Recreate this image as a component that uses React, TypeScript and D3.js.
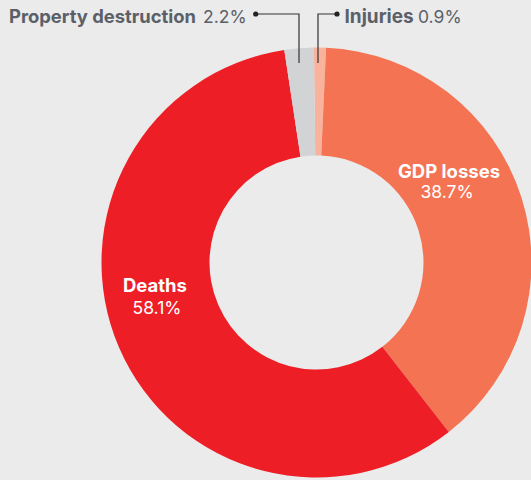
import React from "react";
import * as d3 from "d3";

const categories = ["Injuries", "GDP losses", "Deaths", "Property destruction"];
const values = [0.9, 38.7, 58.1, 2.2];
const colors = ["#F9B39C", "#F47353", "#EE1E26", "#D1D3D5"];

const W = 531;
const H = 480;
const cx = 316.5;
const cy = 262.5;
const R = 215;
const r = 107;
const FONT = "Inter, 'Noto Sans', sans-serif";
const GREY = "#5B6068";

export default function App() {
  const pie = d3
    .pie<number>()
    .sort(null)
    .value((d) => d)
    .startAngle(-0.012)
    .endAngle(2 * Math.PI - 0.012);
  const arcs = pie(values);
  const arc = d3.arc<d3.PieArcDatum<number>>().innerRadius(r).outerRadius(R);

  return (
    <svg
      width={W}
      height={H}
      style={{ position: "absolute", left: 0, top: 0, background: "#EBEBEB" }}
    >
      <rect width={W} height={H} fill="#EBEBEB" />
      <g transform={`translate(${cx},${cy})`}>
        {arcs.map((a, i) => (
          <path key={categories[i]} d={arc(a) || ""} fill={colors[i]} />
        ))}
      </g>
      {/* connectors */}
      <g stroke="#333" strokeWidth={1.2} fill="none">
        <polyline points="255.7,14 299,14 299,63" />
        <polyline points="337,14 318,14 318,63" />
      </g>
      <circle cx={255.7} cy={14} r={2.6} fill="#222" />
      <circle cx={337} cy={14} r={2.6} fill="#222" />
      <g fontFamily={FONT} fill={GREY}>
        <text x={9} y={23} fontSize={18.4} fontWeight={700}>
          {categories[3]}
        </text>
        <text x={203} y={23} fontSize={17.5} fontWeight={400}>
          {values[3]}%
        </text>
        <text x={344.5} y={23} fontSize={19} fontWeight={700}>
          {categories[0]}
        </text>
        <text x={418} y={23} fontSize={17.5} fontWeight={400}>
          {values[0]}%
        </text>
      </g>
      <g fontFamily={FONT} fill="#fff" textAnchor="middle">
        <text x={449} y={178} fontSize={18.5} fontWeight={700}>
          {categories[1]}
        </text>
        <text x={447} y={198} fontSize={17.5} fontWeight={400}>
          {values[1]}%
        </text>
        <text x={155} y={292} fontSize={18.5} fontWeight={700}>
          {categories[2]}
        </text>
        <text x={157} y={314} fontSize={17.5} fontWeight={400}>
          {values[2]}%
        </text>
      </g>
    </svg>
  );
}
